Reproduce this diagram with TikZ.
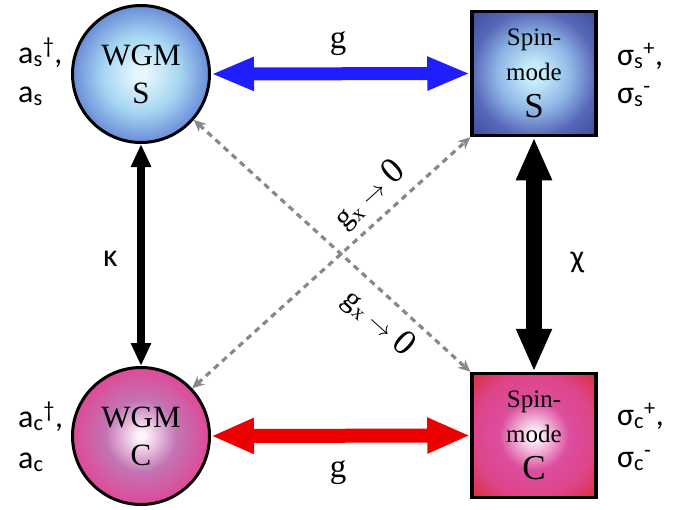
\documentclass[tikz,border=0pt]{standalone}
\usepackage{fontspec}
\setmainfont{Liberation Serif}
\newfontfamily\lblfont{Carlito}
\usetikzlibrary{arrows.meta}
\definecolor{wsin}{HTML}{E6F7FE}
\definecolor{wsmid}{HTML}{A6D6F2}
\definecolor{wsout}{HTML}{6A8CD8}
\definecolor{ssin}{HTML}{C4ECFA}
\definecolor{ssmid}{HTML}{8EB6E6}
\definecolor{ssedge}{HTML}{5868B8}
\definecolor{ssout}{HTML}{404C9E}
\definecolor{wcin}{HTML}{FFF2FB}
\definecolor{wcmid}{HTML}{C274B4}
\definecolor{wcout}{HTML}{DE4A96}
\definecolor{scin}{HTML}{FFF2FB}
\definecolor{scmid}{HTML}{DC4E9E}
\definecolor{scedge}{HTML}{DE4488}
\definecolor{scout}{HTML}{D8303E}
\definecolor{gblue}{HTML}{1E1EFF}
\definecolor{gred}{HTML}{EE0000}
\definecolor{dgray}{HTML}{888888}
\pgfdeclareradialshading{wgmS}{\pgfpoint{0bp}{0bp}}{color(0bp)=(wsin); color(2bp)=(wsin); color(14bp)=(wsmid); color(25bp)=(wsout); color(50bp)=(wsout)}
\pgfdeclareradialshading{wgmC}{\pgfpoint{0bp}{0bp}}{color(0bp)=(wcin); color(1.5bp)=(wcin); color(13bp)=(wcmid); color(25bp)=(wcout); color(50bp)=(wcout)}
\pgfdeclareradialshading{spinS}{\pgfpoint{0bp}{0bp}}{color(0bp)=(ssin); color(4bp)=(ssin); color(15bp)=(ssmid); color(25bp)=(ssedge); color(35bp)=(ssout); color(50bp)=(ssout)}
\pgfdeclareradialshading{spinC}{\pgfpoint{0bp}{0bp}}{color(0bp)=(scin); color(2bp)=(scin); color(14bp)=(scmid); color(25bp)=(scedge); color(35bp)=(scout); color(50bp)=(scout)}
\begin{document}
\begin{tikzpicture}[x=1pt,y=-1pt,
  mode/.style={circle,draw=black,line width=3pt,minimum size=137pt,inner sep=0pt,align=center,font=\fontsize{31}{38}\selectfont},
  spinbox/.style={rectangle,draw=black,line width=3.5pt,minimum size=124pt,inner sep=0pt,align=center,font=\fontsize{25}{35}\selectfont},
  lbl/.style={font=\lblfont\fontsize{32}{32}\selectfont,inner sep=0pt,anchor=base west},
  greek/.style={font=\lblfont\fontsize{32}{32}\selectfont,inner sep=0pt},
  glbl/.style={font=\fontsize{33}{33}\selectfont,inner sep=0pt},
  gxlbl/.style={font=\fontsize{30}{30}\selectfont,inner sep=0pt},
  gdash/.style={draw=dgray,line width=3.2pt,dash pattern=on 6pt off 5pt,{Stealth[length=12pt,width=11pt]}-{Stealth[length=12pt,width=11pt]}}]
\useasboundingbox (0,0) rectangle (695,509);
\node[mode,shading=wgmS] (ws) at (141,74) {WGM\\S};
\node[mode,shading=wgmC] (wc) at (141,436) {WGM\\C};
\node[spinbox,shading=spinS] (ss) at (534,73.5) {Spin-\\mode\\[2pt]{\fontsize{35}{37}\selectfont S}};
\node[spinbox,shading=spinC] (sc) at (534,435.5) {Spin-\\mode\\[2pt]{\fontsize{35}{37}\selectfont C}};
% coupling arrows
\draw[line width=13pt,gblue,{Triangle[length=43pt,width=31pt]}-{Triangle[length=43pt,width=31pt]}] (ws.east) -- (ss.west);
\draw[line width=14pt,gred,{Triangle[length=43pt,width=33pt]}-{Triangle[length=43pt,width=33pt]}] (wc.east) -- (sc.west);
\draw[line width=8pt,black,{Triangle[length=23pt,width=19pt]}-{Triangle[length=23pt,width=19pt]}] (ws.south) -- (wc.north);
\draw[line width=16pt,black,{Triangle[length=43pt,width=33pt]}-{Triangle[length=43pt,width=33pt]}] (ss.south) -- (sc.north);
\draw[gdash] (wc.43) -- (ss.south west);
\draw[gdash] (ws.-41) -- (sc.north west);
% labels
\node[glbl] (g1) at (338,43.5) {g};
\node[glbl] (g2) at (338,472.5) {g};
\node[greek] (kappa) at (110.5,258.5) {κ};
\node[greek] (chi) at (577.5,262) {χ};
\node[gxlbl,rotate=42] (gx1) at (370,195) {g\textsubscript{x} $\rightarrow$ {\fontsize{36}{36}\selectfont 0}};
\node[gxlbl,rotate=-42] (gx2) at (379,323) {g\textsubscript{x} $\rightarrow$ {\fontsize{36}{36}\selectfont 0}};
\node[lbl] (asd) at (18,63) {a\textsubscript{s}\textsuperscript{†},};
\node[lbl] (as) at (18,102) {a\textsubscript{s}};
\node[lbl] (acd) at (18,427) {a\textsubscript{c}\textsuperscript{†},};
\node[lbl] (ac) at (18,468) {a\textsubscript{c}};
\node[lbl] (sgp) at (617,65) {σ\textsubscript{s}\textsuperscript{+},};
\node[lbl] (sgm) at (617,103) {σ\textsubscript{s}\textsuperscript{-}};
\node[lbl] (scp) at (617,425) {σ\textsubscript{c}\textsuperscript{+},};
\node[lbl] (scm) at (617,467) {σ\textsubscript{c}\textsuperscript{-}};
\end{tikzpicture}
\end{document}
